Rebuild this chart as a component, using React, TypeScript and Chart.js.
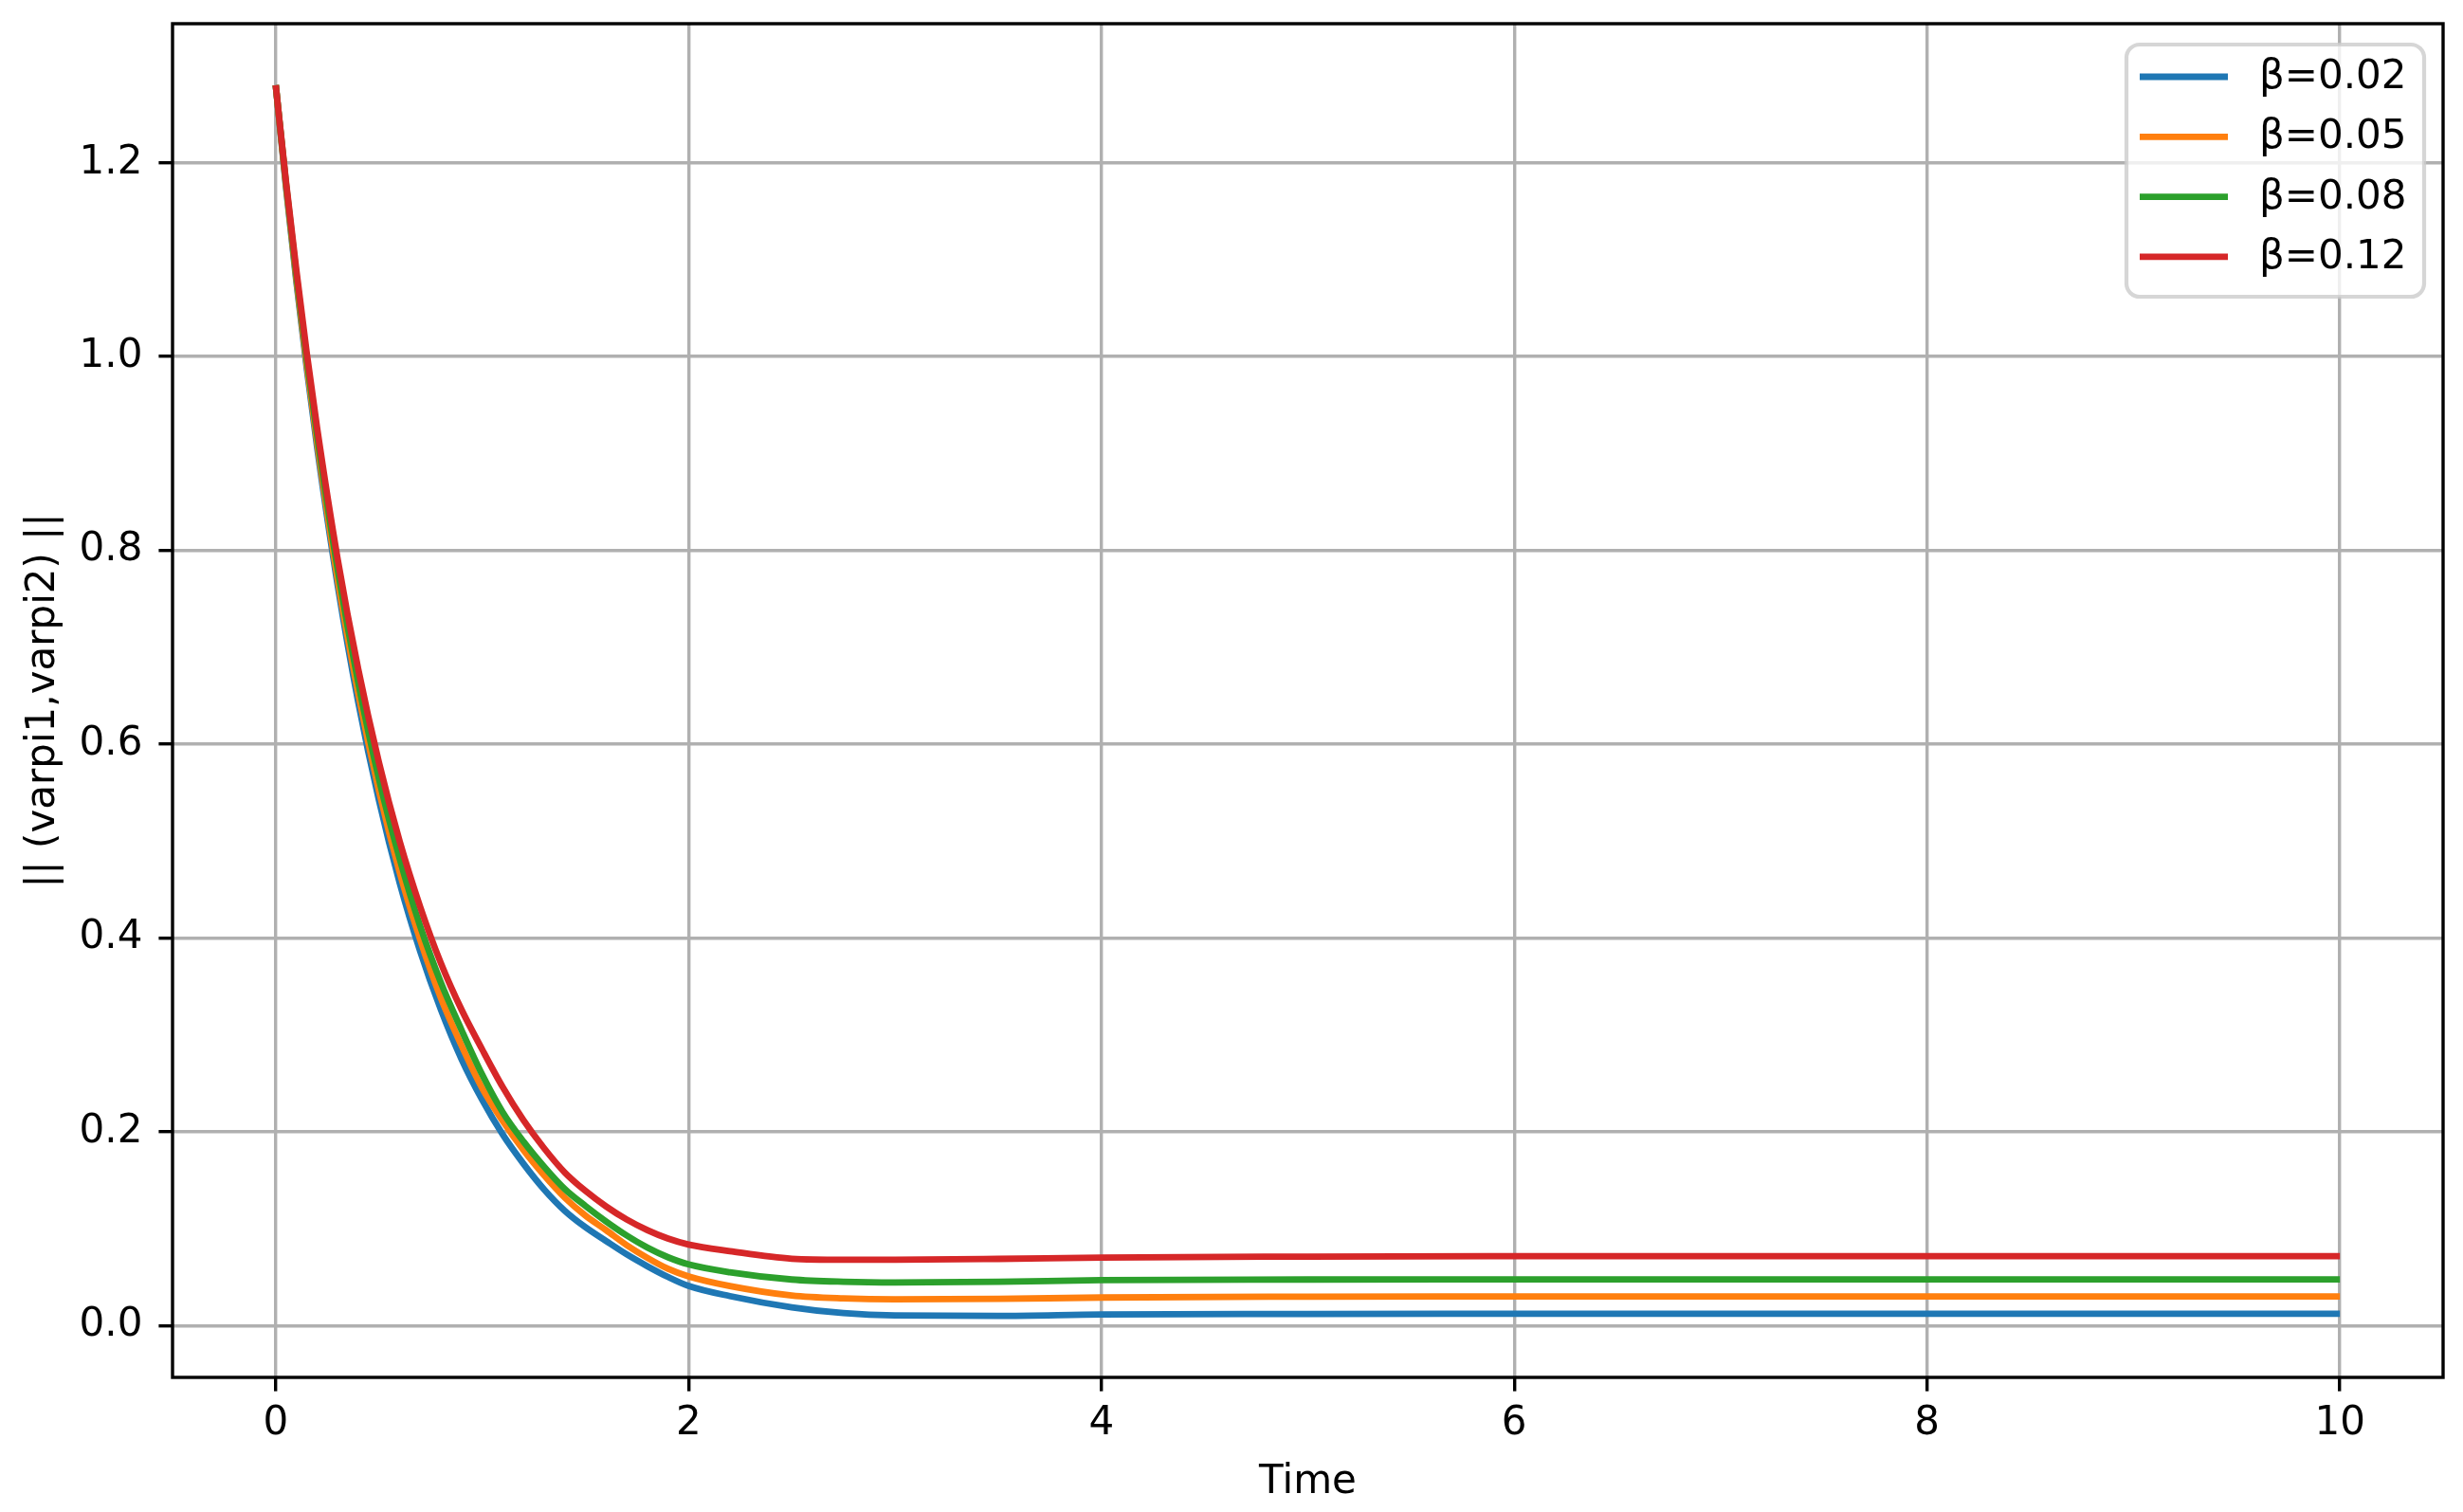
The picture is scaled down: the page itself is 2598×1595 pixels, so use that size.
import React, { useEffect, useRef } from 'react';
import { Chart, registerables } from 'chart.js';

Chart.register(...registerables);

// ---- data ----
const times = [0, 0.05, 0.1, 0.15, 0.2, 0.3, 0.4, 0.5, 0.6, 0.7, 0.8, 0.9, 1.0, 1.1, 1.2, 1.3, 1.4, 1.5, 1.6, 1.7, 1.8, 1.9, 2.0, 2.2, 2.5, 2.75, 3.0, 3.5, 4.0, 5.0, 6.0, 8.0, 10.0];

const beta002 = [1.28, 1.174, 1.077, 0.988, 0.907, 0.764, 0.643, 0.542, 0.457, 0.386, 0.326, 0.275, 0.233, 0.197, 0.167, 0.1405, 0.1185, 0.1015, 0.0873, 0.0735, 0.0613, 0.0502, 0.0409, 0.0304, 0.0188, 0.0128, 0.0104, 0.0100, 0.0114, 0.0120, 0.0122, 0.0122, 0.0122];
const beta005 = [1.28, 1.176, 1.080, 0.992, 0.912, 0.770, 0.652, 0.552, 0.468, 0.398, 0.338, 0.289, 0.245, 0.211, 0.181, 0.155, 0.132, 0.1135, 0.0985, 0.083, 0.0699, 0.0586, 0.0507, 0.0408, 0.031, 0.028, 0.027, 0.0275, 0.0289, 0.0298, 0.0300, 0.0300, 0.0300];
const beta008 = [1.28, 1.178, 1.084, 0.998, 0.919, 0.780, 0.663, 0.564, 0.482, 0.412, 0.354, 0.305, 0.259, 0.220, 0.190, 0.164, 0.141, 0.1235, 0.1075, 0.093, 0.0805, 0.0705, 0.0631, 0.055, 0.0475, 0.0452, 0.0445, 0.0452, 0.0468, 0.0475, 0.0477, 0.0477, 0.0477];
const beta012 = [1.28, 1.180, 1.089, 1.004, 0.927, 0.791, 0.677, 0.581, 0.500, 0.432, 0.374, 0.326, 0.285, 0.246, 0.212, 0.183, 0.158, 0.139, 0.123, 0.1095, 0.0985, 0.0898, 0.0836, 0.0768, 0.069, 0.068, 0.068, 0.0688, 0.0702, 0.0712, 0.0716, 0.0716, 0.0716];

const seriesLabels = ['β=0.02', 'β=0.05', 'β=0.08', 'β=0.12'];
const seriesValues = [beta002, beta005, beta008, beta012];
const seriesColors = ['#1f77b4', '#ff7f0e', '#2ca02c', '#d62728'];

const xTicks = [0, 2, 4, 6, 8, 10];
const yTicks = [0.0, 0.2, 0.4, 0.6, 0.8, 1.0, 1.2];

const xTitle = 'Time';
const yTitle = '|| (varpi1,varpi2) ||';

// ---- style ----
const W = 2598;
const H = 1595;
const FAMILY = '"DejaVu Sans", "Liberation Sans", sans-serif';
const FS = 42;
const LINE_W = 6.8;
const GRID_W = 3.4;
const GRID_C = '#b0b0b0';

const spinesPlugin = {
  id: 'spines',
  afterDatasetsDraw(chart: any) {
    const { ctx, chartArea } = chart;
    ctx.save();
    ctx.strokeStyle = '#000';
    ctx.lineWidth = GRID_W;
    ctx.lineJoin = 'miter';
    ctx.strokeRect(chartArea.left, chartArea.top, chartArea.right - chartArea.left, chartArea.bottom - chartArea.top);
    ctx.restore();
  },
};

const legendPlugin = {
  id: 'mplLegend',
  afterDraw(chart: any) {
    const { ctx, chartArea } = chart;
    const bw = 314;
    const bh = 266;
    const bx = chartArea.right - 20 - bw;
    const by = chartArea.top + 22;
    ctx.save();
    ctx.beginPath();
    (ctx as any).roundRect(bx, by, bw, bh, 14);
    ctx.fillStyle = 'rgba(255,255,255,0.8)';
    ctx.fill();
    ctx.lineWidth = 4.2;
    ctx.strokeStyle = 'rgba(204,204,204,0.8)';
    ctx.stroke();
    ctx.font = `${FS}px ${FAMILY}`;
    ctx.textBaseline = 'middle';
    ctx.textAlign = 'left';
    chart.data.datasets.forEach((ds: any, i: number) => {
      const y = by + 34 + i * 63.3;
      ctx.beginPath();
      ctx.strokeStyle = ds.borderColor;
      ctx.lineWidth = LINE_W;
      ctx.lineCap = 'butt';
      ctx.moveTo(bx + 14, y);
      ctx.lineTo(bx + 107, y);
      ctx.stroke();
      ctx.fillStyle = '#000';
      ctx.fillText(ds.label, bx + 140, y + 1);
    });
    ctx.restore();
  },
};

const zeroPadding = (axis: any) => {
  axis.paddingTop = 0;
  axis.paddingBottom = 0;
  axis.paddingLeft = 0;
  axis.paddingRight = 0;
};

export default function App() {
  const ref = useRef<HTMLCanvasElement | null>(null);

  useEffect(() => {
    document.body.style.margin = '0';
    const canvas = ref.current;
    if (!canvas) return;

    const allVals = seriesValues.flat();
    const dMin = Math.min(...allVals);
    const dMax = Math.max(...allVals);
    const yPad = (dMax - dMin) * 0.05;
    const tMin = Math.min(...times);
    const tMax = Math.max(...times);
    const xPad = (tMax - tMin) * 0.05;

    const font = { family: FAMILY, size: FS };

    const chart = new Chart(canvas, {
      type: 'line',
      data: {
        datasets: seriesLabels.map((label, i) => ({
          label,
          data: times.map((t, j) => ({ x: t, y: seriesValues[i][j] })),
          borderColor: seriesColors[i],
          backgroundColor: seriesColors[i],
          borderWidth: LINE_W,
          pointRadius: 0,
          pointHoverRadius: 0,
          fill: false,
          cubicInterpolationMode: 'monotone' as const,
          borderCapStyle: 'butt' as const,
          borderJoinStyle: 'round' as const,
          order: seriesLabels.length - i,
        })),
      },
      options: {
        animation: false,
        responsive: false,
        devicePixelRatio: 1,
        events: [],
        layout: { padding: { left: 0, top: 25, right: 21, bottom: 0 } },
        plugins: {
          legend: { display: false },
          tooltip: { enabled: false },
          title: { display: false },
        },
        scales: {
          x: {
            type: 'linear',
            min: tMin - xPad,
            max: tMax + xPad,
            afterBuildTicks: (axis: any) => {
              axis.ticks = xTicks.map((value) => ({ value }));
            },
            afterFit: (axis: any) => {
              axis.height = 142;
              zeroPadding(axis);
            },
            ticks: {
              font,
              color: '#000',
              padding: 9,
              maxRotation: 0,
              autoSkip: false,
              callback: (v: any) => String(v),
            },
            grid: {
              color: GRID_C,
              lineWidth: GRID_W,
              drawTicks: true,
              tickLength: 14.6,
              tickColor: '#000',
              tickWidth: GRID_W,
            },
            border: { display: false },
            title: {
              display: true,
              text: xTitle,
              font,
              color: '#000',
              padding: { top: 0, bottom: 6 },
            },
          },
          y: {
            type: 'linear',
            min: dMin - yPad,
            max: dMax + yPad,
            afterBuildTicks: (axis: any) => {
              axis.ticks = yTicks.map((value) => ({ value }));
            },
            afterFit: (axis: any) => {
              axis.width = 182;
              zeroPadding(axis);
            },
            ticks: {
              font,
              color: '#000',
              padding: 17,
              autoSkip: false,
              callback: (v: any) => Number(v).toFixed(1),
            },
            grid: {
              color: GRID_C,
              lineWidth: GRID_W,
              drawTicks: true,
              tickLength: 14.6,
              tickColor: '#000',
              tickWidth: GRID_W,
            },
            border: { display: false },
            title: {
              display: true,
              text: yTitle,
              font,
              color: '#000',
              padding: { top: 21, bottom: 0 },
            },
          },
        },
      },
      plugins: [spinesPlugin, legendPlugin],
    });

    return () => {
      chart.destroy();
    };
  }, []);

  return (
    <div style={{ position: 'absolute', left: 0, top: 0, width: W, height: H, background: '#fff' }}>
      <canvas ref={ref} width={W} height={H} style={{ width: W, height: H, display: 'block' }} />
    </div>
  );
}
